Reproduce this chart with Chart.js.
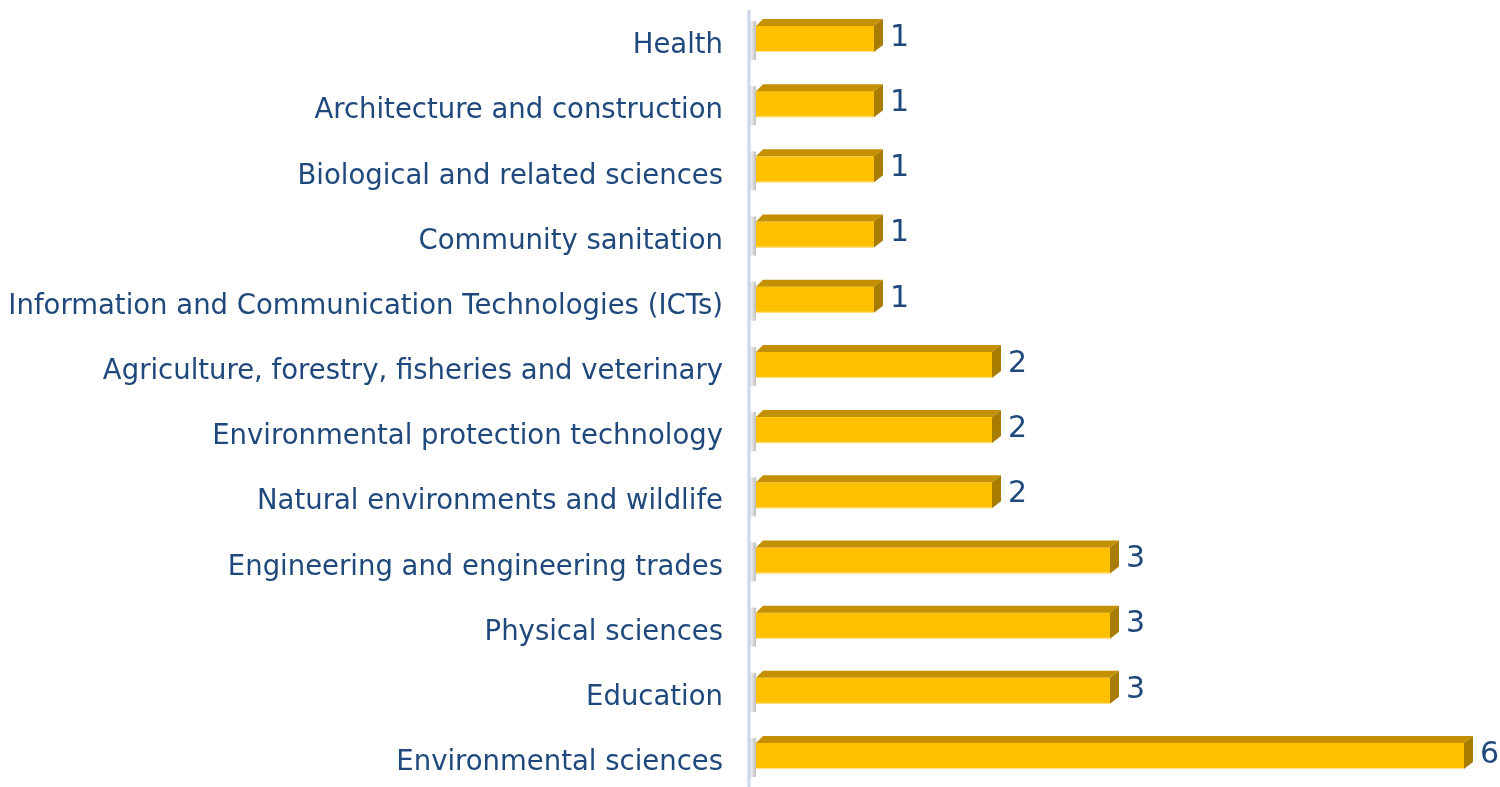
<!DOCTYPE html>
<html>
<head>
<meta charset="utf-8">
<script src="https://cdn.jsdelivr.net/npm/chart.js@4.4.1/dist/chart.umd.min.js"></script>
<style>
  html, body { margin: 0; padding: 0; background: #ffffff; }
  #wrap { width: 1500px; height: 787px; position: relative; }
</style>
</head>
<body>
<div id="wrap"><canvas id="c" width="1500" height="787" style="width:1500px;height:787px"></canvas></div>
<script>
const categories = [
  "Health",
  "Architecture and construction",
  "Biological and related sciences",
  "Community sanitation",
  "Information and Communication Technologies (ICTs)",
  "Agriculture, forestry, fisheries and veterinary",
  "Environmental protection technology",
  "Natural environments and wildlife",
  "Engineering and engineering trades",
  "Physical sciences",
  "Education",
  "Environmental sciences"
];
const values = [1, 1, 1, 1, 1, 2, 2, 2, 3, 3, 3, 6];
const axisMax = 6;

const FRONT = '#FFC000', TOP = '#C49000', SIDE = '#A87C00';
const DX = 9, DY = 7, LIFT = 7;

const bars3d = {
  id: 'bars3d',
  afterDatasetsDraw(chart) {
    const ctx = chart.ctx;
    const area = chart.chartArea;
    ctx.save();
    const ax = area.left - 7;
    const g = ctx.createLinearGradient(ax - 2, 0, ax + 2, 0);
    g.addColorStop(0, '#E4EAF4');
    g.addColorStop(0.5, '#C6D3E8');
    g.addColorStop(1, '#E8EDF6');
    ctx.fillStyle = g;
    ctx.fillRect(ax - 2, 10, 4, 777);

    const meta = chart.getDatasetMeta(0);
    meta.data.forEach((el, i) => {
      const x0 = el.base, x1 = el.x;
      const h = el.height;
      const yc = el.y - LIFT;
      const top = yc - h / 2, bot = yc + h / 2;
      const sg = ctx.createLinearGradient(x0 - 7, 0, x0, 0);
      sg.addColorStop(0, 'rgba(120,120,120,0)');
      sg.addColorStop(1, 'rgba(110,110,110,0.45)');
      ctx.fillStyle = sg;
      ctx.fillRect(x0 - 7, top - DY + 2, 7, h + DY + 6);
      ctx.fillStyle = FRONT;
      ctx.fillRect(x0, top, x1 - x0, h);
      ctx.fillStyle = 'rgba(255,230,150,0.9)';
      ctx.fillRect(x0, bot - 1, x1 - x0, 1);
      ctx.fillStyle = TOP;
      ctx.beginPath();
      ctx.moveTo(x0, top);
      ctx.lineTo(x0 + DX - 2, top - DY);
      ctx.lineTo(x1 + DX, top - DY);
      ctx.lineTo(x1, top);
      ctx.closePath();
      ctx.fill();
      ctx.fillStyle = SIDE;
      ctx.beginPath();
      ctx.moveTo(x1, top);
      ctx.lineTo(x1 + DX, top - DY);
      ctx.lineTo(x1 + DX, bot - DY);
      ctx.lineTo(x1, bot);
      ctx.closePath();
      ctx.fill();
      ctx.fillStyle = '#1F497D';
      ctx.font = '30px "DejaVu Sans", Verdana, sans-serif';
      ctx.textAlign = 'left';
      ctx.textBaseline = 'middle';
      ctx.fillText(String(values[i]), x1 + DX + 7, yc - 1);
    });
    ctx.restore();
  }
};

new Chart(document.getElementById('c'), {
  type: 'bar',
  data: {
    labels: categories,
    datasets: [{
      data: values,
      backgroundColor: 'rgba(0,0,0,0)',
      borderWidth: 0,
      barThickness: 26,
      clip: false
    }]
  },
  options: {
    indexAxis: 'y',
    responsive: false,
    maintainAspectRatio: false,
    animation: false,
    devicePixelRatio: 1,
    layout: { padding: { left: 0, right: 36, top: 46, bottom: 24 } },
    plugins: { legend: { display: false }, tooltip: { enabled: false } },
    scales: {
      x: { display: false, min: 0, max: axisMax },
      y: {
        offset: false,
        grid: { display: true, drawOnChartArea: false, drawTicks: true, tickLength: 33, color: 'rgba(0,0,0,0)' },
        border: { display: false },
        afterFit(s) { s.width = 756; },
        ticks: {
          padding: 0,
          color: '#1F497D',
          font: { family: '"DejaVu Sans", Verdana, sans-serif', size: 27.5 }
        }
      }
    }
  },
  plugins: [bars3d]
});
</script>
</body>
</html>
